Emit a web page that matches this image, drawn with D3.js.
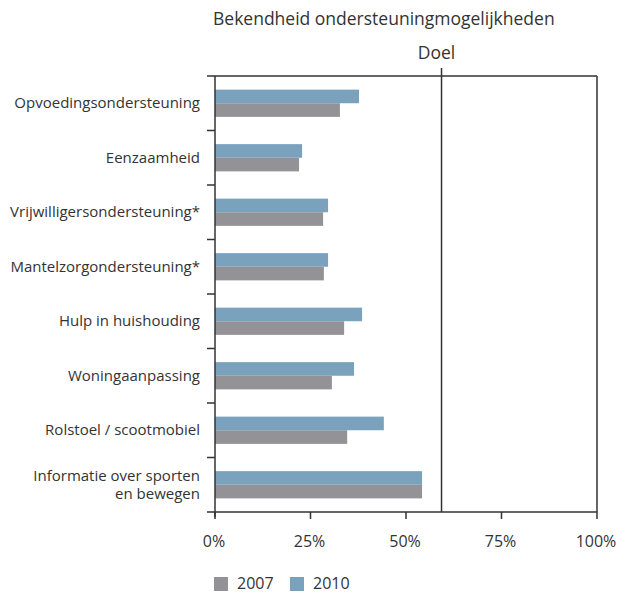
<!DOCTYPE html>
<html><head><meta charset="utf-8">
<script src="https://cdn.jsdelivr.net/npm/d3@7"></script>
<style>body{margin:0;background:#fff}svg text{font-family:"Open Sans",sans-serif;fill:#333}</style>
</head><body><svg id="c" width="627" height="593"></svg>
<script>
const categories = ["Opvoedingsondersteuning","Eenzaamheid","Vrijwilligersondersteuning*","Mantelzorgondersteuning*","Hulp in huishouding","Woningaanpassing","Rolstoel / scootmobiel","Informatie over sporten\nen bewegen"];
const values2007 = [32.7, 22.0, 28.3, 28.5, 33.8, 30.6, 34.6, 54.2];
const values2010 = [37.7, 22.8, 29.6, 29.6, 38.5, 36.4, 44.2, 54.2];
const seriesNames = ["2007","2010"];
const xTicks = [0, 25, 50, 75, 100];
const goal = 59.3;
const title = "Bekendheid ondersteuningmogelijkheden";
const goalLabel = "Doel";
const colors = {"2007":"#939397","2010":"#7ba2bd"};

const svg = d3.select("#c");
const L = 215, R = 597, T = 76, B = 512;
const x = d3.scaleLinear().domain([0,100]).range([L,R]);
const y = d3.scaleBand().domain(categories).range([T,B]).paddingInner(0.5).paddingOuter(0.25);
const yb = d3.scaleBand().domain(categories).range([T,B]);
const sub = d3.scaleBand().domain(["2010","2007"]).range([0,y.bandwidth()]);

const rows = categories.map((c,i)=>({c, v:{"2007":values2007[i],"2010":values2010[i]}}));
const g = svg.append("g");
rows.forEach(r=>{
  ["2010","2007"].forEach(s=>{
    g.append("rect").attr("x",x(0)).attr("y",y(r.c)+sub(s)).attr("width",x(r.v[s])-x(0)).attr("height",sub.bandwidth()).attr("fill",colors[s]);
  });
});

const stroke="#333";
svg.append("line").attr("x1",207).attr("x2",R).attr("y1",T).attr("y2",T).attr("stroke",stroke).attr("stroke-width",1.5);
svg.append("line").attr("x1",R).attr("x2",R).attr("y1",T).attr("y2",B).attr("stroke",stroke).attr("stroke-width",1.5);
svg.append("line").attr("x1",x(goal)).attr("x2",x(goal)).attr("y1",68).attr("y2",B).attr("stroke",stroke).attr("stroke-width",1.5);
svg.append("text").attr("x",x(goal)-5).attr("y",59).attr("text-anchor","middle").attr("font-size",17.5).text(goalLabel);

svg.append("line").attr("x1",L).attr("x2",L).attr("y1",T).attr("y2",B+5).attr("stroke",stroke).attr("stroke-width",1.5);
categories.forEach((c,i)=>{
  if(i>0) svg.append("line").attr("x1",207).attr("x2",L).attr("y1",yb(c)).attr("y2",yb(c)).attr("stroke",stroke).attr("stroke-width",1.5);
  const lines = c.split("\n");
  const cy = yb(c)+yb.bandwidth()/2;
  const t = svg.append("text").attr("x",200).attr("text-anchor","end").attr("font-size",15);
  lines.forEach((ln,j)=>{
    t.append("tspan").attr("x",200).attr("y",cy+5+(j-(lines.length-1)/2)*18).text(ln);
  });
});

svg.append("line").attr("x1",207).attr("x2",R).attr("y1",B).attr("y2",B).attr("stroke",stroke).attr("stroke-width",1.5);
xTicks.forEach(t=>{
  svg.append("line").attr("x1",x(t)).attr("x2",x(t)).attr("y1",B).attr("y2",B+7).attr("stroke",stroke).attr("stroke-width",1.5);
  svg.append("text").attr("x",x(t)-1).attr("y",B+35).attr("text-anchor","middle").attr("font-size",16).text(t+"%");
});

svg.append("text").attr("x",213).attr("y",25).attr("font-size",17.5).text(title);

const lg = [{s:"2007",x:214},{s:"2010",x:290}];
lg.forEach(d=>{
  svg.append("rect").attr("x",d.x).attr("y",577).attr("width",14).attr("height",14).attr("fill",colors[d.s]);
  svg.append("text").attr("x",d.x+23).attr("y",589).attr("font-size",16).text(d.s);
});
</script></body></html>
